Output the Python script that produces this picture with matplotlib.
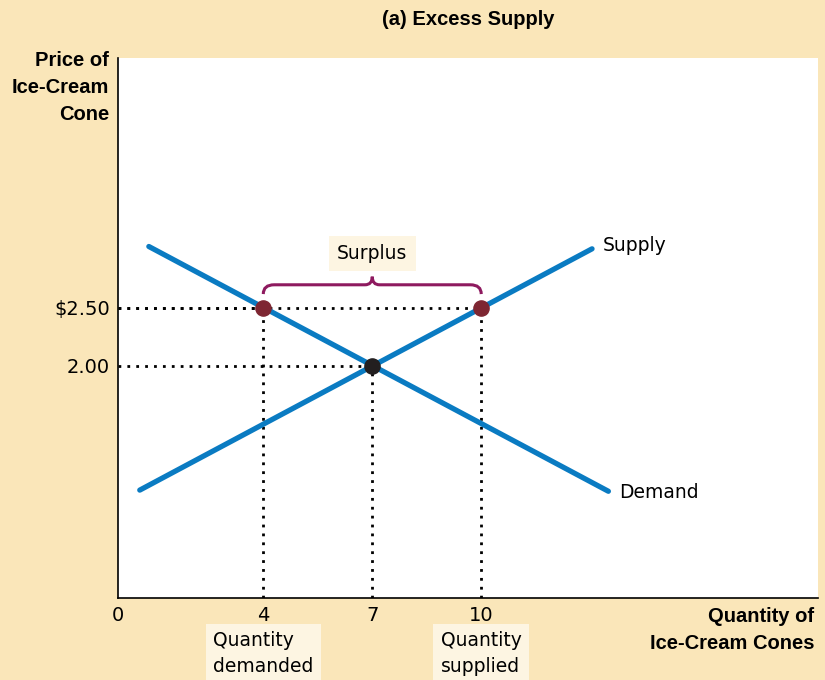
import numpy as np
import matplotlib.pyplot as plt
from matplotlib.path import Path
from matplotlib.patches import PathPatch

# chart data
supply_q = [0.6, 13.05]
supply_p = [0.93, 3.01]
demand_q = [0.85, 13.5]
demand_p = [3.03, 0.92]
surplus_q = [4, 10]
surplus_p = [2.50, 2.50]
equil_q = [7]
equil_p = [2.00]
xticks = [0, 4, 7, 10]
xtick_labels = ["0", "4", "7", "10"]
yticks = [2.00, 2.50]
ytick_labels = ["2.00", "$2.50"]

BG = "#FAE6B9"
BLUE = "#0A7BC2"
RED = "#7E2632"
PURPLE = "#8E1A5F"
BOX = "#FDF5E2"
FONT = ["DejaVu Sans"]
BOLD = ["Liberation Sans", "DejaVu Sans"]

fig = plt.figure(figsize=(8.25, 6.8), dpi=100, facecolor=BG)
ax = fig.add_axes([0.143, 0.1206, 0.8485, 0.7941])
ax.set_xlim(0, 19.27)
ax.set_ylim(0, 4.655)

# dotted guides
for q, p in zip(surplus_q + equil_q, surplus_p + equil_p):
    ax.plot([0, q], [p, p], color="black", ls=(0, (1, 2.2)), lw=2, zorder=1)
    ax.plot([q, q], [0, p], color="black", ls=(0, (1, 2.2)), lw=2, zorder=1)

ax.plot(supply_q, supply_p, color=BLUE, lw=3.8, solid_capstyle="round", zorder=2)
ax.plot(demand_q, demand_p, color=BLUE, lw=3.8, solid_capstyle="round", zorder=2)
ax.scatter(surplus_q, surplus_p, s=120, color=RED, zorder=3)
ax.scatter(equil_q, equil_p, s=120, color="#231F20", zorder=3)

ax.text(supply_q[1] + 0.3, supply_p[1] + 0.03, "Supply", fontsize=13.5,
        family=FONT, va="center", ha="left")
ax.text(demand_q[1] + 0.3, demand_p[1] - 0.01, "Demand", fontsize=13.5,
        family=FONT, va="center", ha="left")

# brace over the surplus
x0, x1 = surplus_q
xm = (x0 + x1) / 2
yb, yl, yt = 2.62, 2.70, 2.77
verts = [(x0, yb), (x0, yl), (x0 + 0.3, yl),
         (xm - 0.2, yl), (xm, yl), (xm, yt),
         (xm, yl), (xm + 0.2, yl),
         (x1 - 0.3, yl), (x1, yl), (x1, yb)]
codes = [Path.MOVETO, Path.CURVE3, Path.CURVE3,
         Path.LINETO, Path.CURVE3, Path.CURVE3,
         Path.CURVE3, Path.CURVE3,
         Path.LINETO, Path.CURVE3, Path.CURVE3]
ax.add_patch(PathPatch(Path(verts, codes), fill=False, ec=PURPLE, lw=2.2, zorder=2))
ax.text(xm, 2.97, "Surplus", fontsize=13.5, family=FONT, ha="center", va="center",
        bbox=dict(boxstyle="square,pad=0.45", fc=BOX, ec="none"))

ax.set_xticks(xticks)
ax.set_xticklabels(xtick_labels, fontsize=14, family=FONT)
ax.set_yticks(yticks)
ax.set_yticklabels(ytick_labels, fontsize=14, family=FONT)
ax.tick_params(length=0, pad=6)
for s in ["top", "right"]:
    ax.spines[s].set_visible(False)
for s in ["left", "bottom"]:
    ax.spines[s].set_linewidth(1.2)

# labels under the quantities
for q, lab in zip(surplus_q, ["Quantity\ndemanded", "Quantity\nsupplied"]):
    ax.annotate(lab, xy=(q, 0), xycoords=("data", "axes fraction"),
                xytext=(0, -24), textcoords="offset points", ha="center", va="top",
                fontsize=13.5, family=FONT, linespacing=1.45, multialignment="left",
                annotation_clip=False,
                bbox=dict(boxstyle="square,pad=0.4", fc=BOX, ec="none"))

fig.text(0.132, 0.925, "Price of\nIce-Cream\nCone", ha="right", va="top",
         fontsize=14.5, fontweight="bold", family=BOLD, linespacing=1.55)
fig.text(0.987, 0.108, "Quantity of\nIce-Cream Cones", ha="right", va="top",
         fontsize=14.5, fontweight="bold", family=BOLD, linespacing=1.55,
         multialignment="right")
fig.text(0.567, 0.972, "(a) Excess Supply", ha="center", va="center",
         fontsize=14.5, fontweight="bold", family=BOLD)

fig.savefig("out.png", dpi=100, facecolor=BG)
